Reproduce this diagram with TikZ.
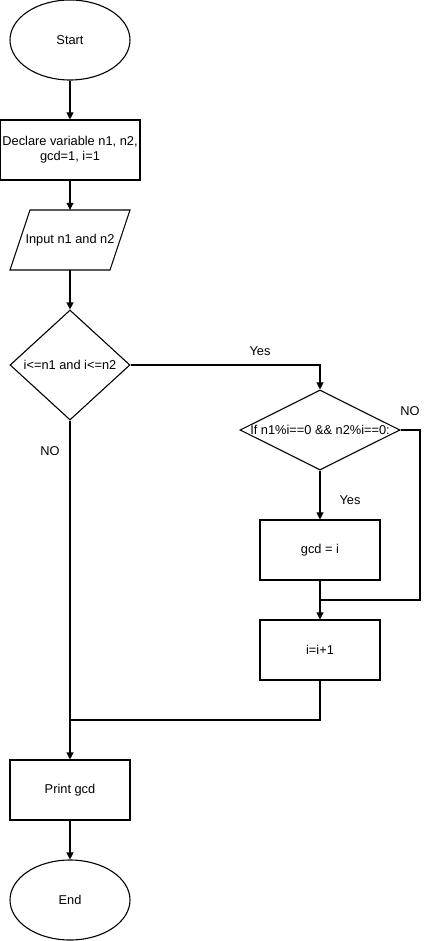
\documentclass[tikz,border=0pt]{standalone}
\usepackage{fontspec}
\setmainfont{Liberation Sans}
\usetikzlibrary{shapes.geometric,arrows.meta}
\begin{document}
\begin{tikzpicture}[x=1pt,y=-1pt,
  every node/.style={font=\fontsize{12.8}{15}\selectfont},
  base/.style={draw=black, line width=1.1pt, inner sep=0pt, align=center},
  term/.style={base, ellipse, minimum width=120pt, minimum height=80pt},
  proc/.style={base, rectangle, minimum width=120pt, minimum height=60pt},
  ioframe/.style={line width=1.1pt, line join=miter},
  dec/.style={base, diamond, aspect=1},
  lbl/.style={inner sep=0pt},
  conn/.style={line width=1.1pt, -{Triangle[length=7pt,width=7pt]}},
  line/.style={line width=1.1pt}]
\useasboundingbox (0,0) rectangle (429,941);
\node[term] (start) at (70,40) {Start};
\node[proc, minimum width=140pt] (decl) at (70,150) {Declare variable n1, n2,\\gcd=1, i=1};
\node[inner sep=0pt, minimum width=120pt, minimum height=60pt] (input) at (70,240) {Input n1 and n2};
\draw[ioframe] (30,210) -- (130,210) -- (110,270) -- (10,270) -- cycle;
\node[dec, minimum width=120pt, minimum height=110pt] (d1) at (70,365) {};
\node[lbl] at (70,365) {i<=n1 and i<=n2};
\node[dec, minimum width=160pt, minimum height=80pt] (d2) at (320,430) {};
\node[lbl] at (320,430) {If n1\%i==0 \&\& n2\%i==0:};
\node[proc] (gcd) at (320,550) {gcd = i};
\node[proc] (inc) at (320,650) {i=i+1};
\node[proc] (print) at (70,790) {Print gcd};
\node[term] (end) at (70,900) {End};
\coordinate (c1) at (320,365);
\coordinate (c2) at (420,430);
\coordinate (c3) at (420,600);
\coordinate (c4) at (320,600);
\coordinate (c5) at (320,720);
\coordinate (c6) at (70,720);
\draw[conn] (start) -- (decl);
\draw[conn] (decl) -- (input.north);
\draw[conn] (input.south) -- (d1.north);
\draw[conn] (d1.east) -- (c1) -- (d2.north);
\draw[conn] (d2) -- (gcd);
\draw[line] (d2.east) -- (c2) -- (c3) -- (c4);
\draw[conn] (gcd) -- (inc);
\draw[line] (inc.south) -- (c5) -- (c6);
\draw[conn] (d1.south) -- (print);
\draw[conn] (print) -- (end);
\node[lbl] at (260,351) {Yes};
\node[lbl] at (410,411) {NO};
\node[lbl] at (50,451) {NO};
\node[lbl] at (350,500) {Yes};
\end{tikzpicture}
\end{document}
